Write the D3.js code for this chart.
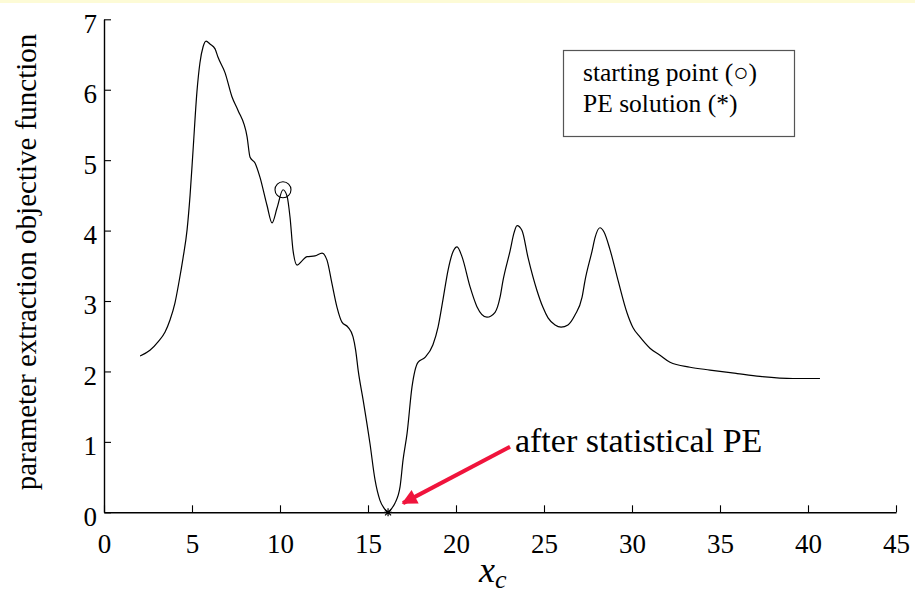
<!DOCTYPE html>
<html>
<head>
<meta charset="utf-8">
<script src="https://cdn.jsdelivr.net/npm/d3@7/dist/d3.min.js"></script>
<style>
  html, body { margin: 0; padding: 0; background: #ffffff; }
  svg { display: block; }
  svg text { font-family: "Liberation Serif", "DejaVu Serif", serif !important; fill: #000; }
</style>
</head>
<body>
<svg id="chart" width="915" height="594"></svg>
<script>
// ---- data ----
const xc = [2.05, 2.61, 3.07, 3.47, 3.75, 4.03, 4.26, 4.49, 4.72, 4.89, 5.06, 5.28, 5.45, 5.63, 5.80,
  6.02, 6.31, 6.48, 6.88, 7.27, 7.61, 8.13, 8.30, 8.58, 8.86, 9.26, 9.55, 9.83, 10.17, 10.40,
  10.57, 10.74, 10.97, 11.25, 11.53, 11.99, 12.39, 12.67, 12.95, 13.24, 13.52, 13.86, 14.15, 14.30,
  14.45, 14.72, 15.11, 15.40, 15.68, 15.91, 16.14, 16.36, 16.53, 16.82, 16.99, 17.22, 17.50, 17.84,
  18.24, 18.69, 18.98, 19.26, 19.55, 19.83, 20.06, 20.34, 20.80, 21.19, 21.76, 22.22, 22.50, 22.67,
  23.07, 23.30, 23.47, 23.75, 24.09, 24.60, 24.94, 25.23, 25.63, 25.97, 26.36, 26.76, 27.16, 27.33,
  27.73, 27.90, 28.18, 28.41, 28.75, 29.20, 29.72, 30.06, 30.45, 31.02, 31.59, 32.16, 33.30, 34.43,
  35.97, 37.27, 39.15, 40.68];
const objective = [2.22, 2.30, 2.42, 2.56, 2.73, 2.97, 3.27, 3.61, 4.01, 4.50, 5.14, 5.97, 6.38, 6.61, 6.69,
  6.65, 6.58, 6.46, 6.24, 5.90, 5.71, 5.33, 5.04, 4.96, 4.76, 4.36, 4.11, 4.32, 4.58, 4.49,
  4.19, 3.72, 3.51, 3.57, 3.63, 3.64, 3.68, 3.58, 3.25, 2.91, 2.70, 2.63, 2.49, 2.30,
  2.00, 1.60, 0.98, 0.46, 0.17, 0.06, 0.00, 0.06, 0.13, 0.36, 0.74, 1.12, 1.78, 2.13,
  2.20, 2.38, 2.63, 3.02, 3.44, 3.70, 3.77, 3.63, 3.20, 2.92, 2.77, 2.84, 3.05, 3.29,
  3.71, 3.97, 4.07, 4.00, 3.62, 3.15, 2.91, 2.76, 2.66, 2.63, 2.66, 2.80, 3.05, 3.29,
  3.71, 3.90, 4.04, 3.98, 3.73, 3.30, 2.83, 2.62, 2.49, 2.33, 2.23, 2.13, 2.06, 2.02,
  1.97, 1.93, 1.90, 1.90];
const startX = [10.17], startY = [4.58];
const peX = [16.14], peY = [0];
const xTicks = [0, 5, 10, 15, 20, 25, 30, 35, 40, 45];
const yTicks = [0, 1, 2, 3, 4, 5, 6, 7];
const legendLines = ["starting point (\u25CB)", "PE solution (*)"];
const annotationText = "after statistical PE";
const xLabel = "x", xLabelSub = "c";
const yLabel = "parameter extraction objective function";

// ---- drawing ----
const FONT = "'Liberation Serif', 'DejaVu Serif', serif";
const svg = d3.select("#chart");
svg.append("rect").attr("x", 0).attr("y", 0).attr("width", 915).attr("height", 3).attr("fill", "#fdfbd6");

const x = d3.scaleLinear().domain([0, 45]).range([104, 896]);
const y = d3.scaleLinear().domain([0, 7]).range([512.3, 19.3]);

// axes
const xAxis = svg.append("g").attr("transform", `translate(0,${y(0)})`)
  .call(d3.axisBottom(x).tickValues(xTicks).tickSize(-7).tickSizeOuter(0).tickFormat(d3.format("d")));
const yAxis = svg.append("g").attr("transform", `translate(${x(0)},0)`)
  .call(d3.axisLeft(y).tickValues(yTicks).tickSize(-7).tickSizeOuter(0).tickPadding(7).tickFormat(d3.format("d")));
[xAxis, yAxis].forEach(g => {
  g.attr("font-family", null);
  g.selectAll("path.domain").attr("stroke", "#000").attr("stroke-width", 1.4);
  g.selectAll(".tick line").attr("stroke", "#000").attr("stroke-width", 1.1);
  g.selectAll(".tick text").style("font-family", FONT).attr("font-size", 27).attr("fill", "#000");
});
xAxis.selectAll(".tick text").attr("y", 41).attr("dy", 0);
yAxis.selectAll(".tick text").attr("dy", "0.48em");

// curve
const pts = xc.map((v, i) => [v, objective[i]]);
svg.append("path").datum(pts)
  .attr("fill", "none").attr("stroke", "#000").attr("stroke-width", 1.2)
  .attr("d", d3.line().x(d => x(d[0])).y(d => y(d[1])).curve(d3.curveMonotoneX));

// start point marker
svg.selectAll("circle.start").data(startX.map((v, i) => [v, startY[i]])).enter()
  .append("circle").attr("class", "start")
  .attr("cx", d => x(d[0])).attr("cy", d => y(d[1])).attr("r", 8)
  .attr("fill", "none").attr("stroke", "#000").attr("stroke-width", 1.1);

// PE solution asterisk
const star = svg.selectAll("g.pe").data(peX.map((v, i) => [v, peY[i]])).enter()
  .append("g").attr("class", "pe").attr("transform", d => `translate(${x(d[0])},${y(d[1])})`);
star.append("path").attr("d", "M-4,0L4,0M0,-4L0,4M-3,-3L3,3M-3,3L3,-3")
  .attr("stroke", "#000").attr("stroke-width", 1.2);

// arrow annotation
const arrowColor = "#f0143c";
const defs = svg.append("defs");
defs.append("marker").attr("id", "ah").attr("viewBox", "0 0 10 10").attr("refX", 9).attr("refY", 5)
  .attr("markerWidth", 4.5).attr("markerHeight", 3.8).attr("markerUnits", "strokeWidth").attr("orient", "auto")
  .append("path").attr("d", "M0,0L10,5L0,10Z").attr("fill", arrowColor);
const tail = [23.07, 0.93], tip = [16.99, 0.13];
svg.append("line")
  .attr("x1", x(tail[0])).attr("y1", y(tail[1]))
  .attr("x2", x(tip[0])).attr("y2", y(tip[1]))
  .attr("stroke", arrowColor).attr("stroke-width", 4).attr("marker-end", "url(#ah)");
svg.append("text").attr("x", x(23.35)).attr("y", y(0.86)).style("font-family", FONT)
  .attr("font-size", 34).text(annotationText);

// legend
svg.append("rect").attr("x", 563.5).attr("y", 50.5).attr("width", 231).attr("height", 86)
  .attr("fill", "#fff").attr("stroke", "#555").attr("stroke-width", 1.2);
svg.selectAll("text.leg").data(legendLines).enter().append("text").attr("class", "leg")
  .style("font-family", FONT)
  .attr("x", 583).attr("y", (d, i) => 81 + i * 31).attr("font-size", 25.5).text(d => d);

// axis titles
const xt = svg.append("text").attr("x", 479).attr("y", 582).style("font-family", FONT)
  .attr("font-size", 36).attr("font-style", "italic");
xt.append("tspan").text(xLabel);
xt.append("tspan").attr("font-size", 26).attr("dy", 6).text(xLabelSub);

svg.append("text").attr("transform", "translate(36,262) rotate(-90)").style("font-family", FONT)
  .attr("text-anchor", "middle").attr("font-size", 29).text(yLabel);
</script>
</body>
</html>
